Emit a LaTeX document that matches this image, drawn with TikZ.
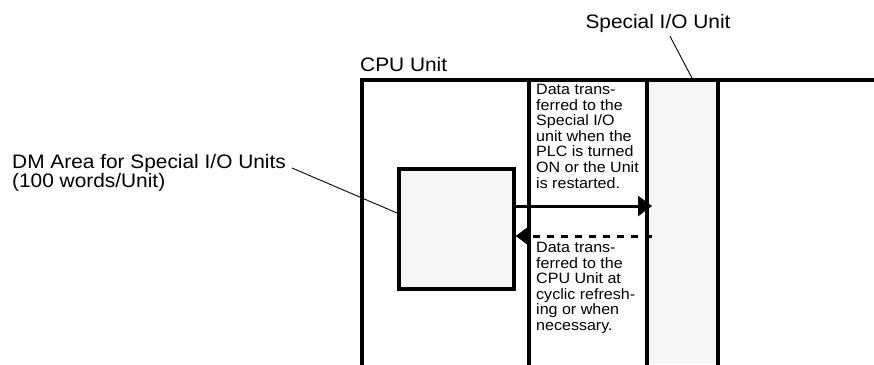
\documentclass[tikz,border=0pt]{standalone}
\usepackage{fontspec}
\setmainfont{Liberation Sans}[FakeStretch=1.07]
\usetikzlibrary{arrows.meta}
\definecolor{unitfill}{gray}{0.965}
\tikzset{
  wall/.style={line width=3.7pt, line cap=rect},
  unitbox/.style={draw, line width=3.7pt, fill=unitfill},
  leader/.style={line width=0.9pt},
  flow/.style={line width=3pt, -{Triangle[length=14pt,width=20pt]}},
  bigtext/.style={inner sep=0pt, font=\fontsize{19.5}{19}\selectfont},
  smalltext/.style={inner sep=0pt, align=left, anchor=north west, font=\fontsize{15}{15.6}\selectfont},
}
\begin{document}
\begin{tikzpicture}[x=1pt, y=-1pt]
\useasboundingbox (0,0) rectangle (874,364);
% Special I/O Unit column
\fill[unitfill] (647,80) rectangle (717,364);
% CPU unit frame
\draw[wall] (362,366) -- (362,80) -- (876,80);
\draw[wall] (529,80) -- (529,366);
\draw[wall] (647,80) -- (647,366);
\draw[wall] (718,80) -- (718,366);
% DM area box
\node[unitbox, minimum width=115pt, minimum height=120pt, inner sep=0pt, anchor=north west] (dm) at (397,167) {};
% flows
\coordinate (siotop) at (652,206);
\coordinate (siobot) at (652,236);
\draw[flow] (dm.east |- siotop) -- (siotop);
\draw[flow, dash pattern=on 7pt off 7pt] (siobot) -- (dm.east |- siobot);
% texts
\node[smalltext] (t1) at (536,84) {Data trans-\\ferred to the\\Special I/O\\unit when the\\PLC is turned\\ON or the Unit\\is restarted.};
\node[smalltext] (t2) at (536,242) {Data trans-\\ferred to the\\CPU Unit at\\cyclic refresh-\\ing or when\\necessary.};
% labels
\node[bigtext, anchor=base] (sio) at (658,28) {Special I/O Unit};
\node[bigtext, anchor=west] (cpu) at (360,65) {CPU Unit};
\node[bigtext, align=left, anchor=north west] (dml) at (12,154) {DM Area for Special I/O Units\\(100 words/Unit)};
% leaders
\coordinate (sioend) at (693,80);
\coordinate (dmlend) at (292,168);
\draw[leader] (sio.south) ++(12,4) coordinate (siostart) -- (sioend);
\draw[leader] (dmlend) -- (dm.west |- 0,213);
\end{tikzpicture}
\end{document}
